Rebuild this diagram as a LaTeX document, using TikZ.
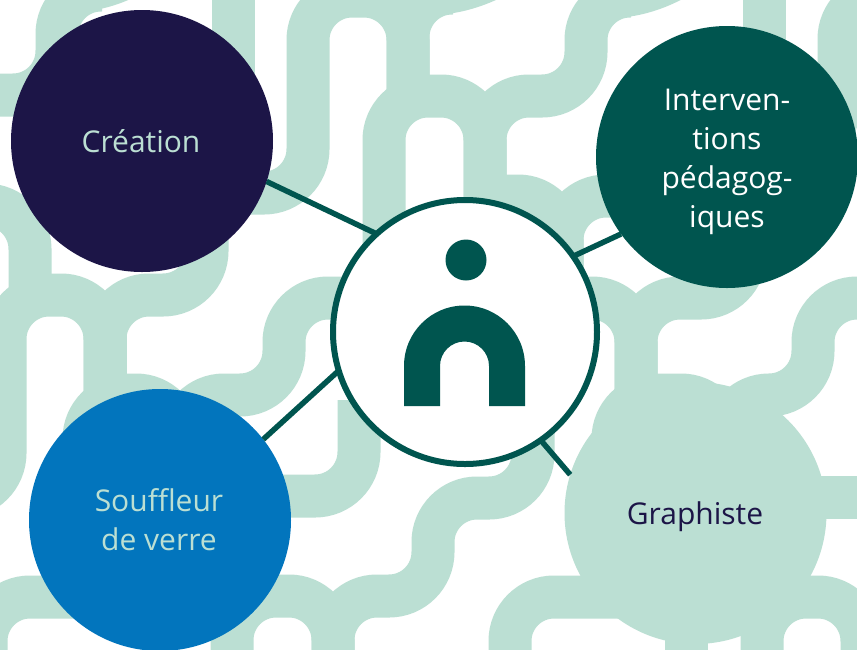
\documentclass[tikz,border=0pt]{standalone}
\usepackage{fontspec}
\setmainfont{Open Sans}
\definecolor{bandc}{HTML}{BBDFD3}
\definecolor{navyc}{HTML}{1C1547}
\definecolor{darkg}{HTML}{00554F}
\definecolor{bluec}{HTML}{0275BD}
\tikzset{
  band/.style={draw=bandc,line width=43pt,rounded corners=44pt},
  bubble/.style={circle,minimum size=262pt,inner sep=0pt,outer sep=0pt},
  caption/.style={align=center,inner sep=0pt,font=\fontsize{30pt}{39pt}\selectfont},
  link/.style={draw=darkg,line width=5.5pt}
}
\begin{document}
\begin{tikzpicture}[x=1pt,y=-1pt]
\useasboundingbox (0,0) rectangle (857,649);
\fill[white] (0,0) rectangle (857,649);
\begin{scope}
\clip (0,0) rectangle (857,649);
\draw[band] (-30,95) -- (57,95) -- (57,-10) -- (122,-10) -- (172,-60);
\draw[band] (233,-30) -- (233,100);
\draw[band] (230,193) -- (308,193) -- (308,-4) -- (408,-4) -- (408,96);
\draw[band] (408,96) -- (408,-7) -- (480,-7) -- (530,-50);
\draw[band] (384,260) -- (384,96) -- (485,96) -- (485,260);
\draw[band] (485,200) -- (485,96) -- (586,96) -- (586,-4) -- (660,-4) -- (710,-50);
\draw[band] (485,196) -- (562,196) -- (562,300);
\draw[band] (562,300) -- (562,196) -- (700,196);
\draw[band] (540,298) -- (636,298) -- (636,420);
\draw[band] (636,420) -- (636,298) -- (745,298) -- (745,200);
\draw[band] (613,445) -- (613,395) -- (725,395) -- (725,450);
\draw[band] (725,450) -- (725,395) -- (813,395) -- (813,298) -- (890,298);
\draw[band] (764,-30) -- (764,100);
\draw[band] (890,-5) -- (839,-5) -- (839,150) -- (760,150);
\draw[band] (780,497) -- (890,497);
\draw[band] (762,680) -- (762,597) -- (862,597) -- (862,680);
\draw[band] (700,597) -- (800,597);
\draw[band] (686,600) -- (686,680);
\draw[band] (510,680) -- (510,597) -- (620,597);
\draw[band] (533,400) -- (533,498) -- (433,498) -- (433,596) -- (333,596) -- (333,680);
\draw[band] (232,680) -- (232,596) -- (333,596) -- (333,680);
\draw[band] (359,400) -- (359,496) -- (240,496);
\draw[band] (360,298) -- (284,298) -- (284,395) -- (180,395) -- (180,450);
\draw[band] (180,450) -- (180,395) -- (84,395) -- (84,460);
\draw[band] (105,295) -- (105,395);
\draw[band] (-40,497) -- (5,497) -- (5,295) -- (105,295) -- (105,400);
\draw[band] (105,400) -- (105,295) -- (207,295) -- (207,200);
\draw[band] (-30,205) -- (30,205) -- (30,300);
\draw[band] (-14,680) -- (-14,597) -- (100,597);
\end{scope}
\node[bubble,fill=navyc] (creation) at (142,141) {};
\node[bubble,fill=darkg] (interv) at (727,157) {};
\node[bubble,fill=bluec] (souffleur) at (160,520) {};
\node[bubble,fill=bandc] (graphiste) at (695.5,513) {};
\node[circle,minimum size=264pt,inner sep=0pt,outer sep=0pt,draw=darkg,line width=6pt,fill=white] (hub) at (465,332) {};
\fill[darkg] (466,260) circle[radius=20.5];
\fill[darkg] (404,406) -- (404,366) arc[start angle=180,end angle=360,radius=60.5] -- (525,406) -- (489,406) -- (489,366) arc[start angle=360,end angle=180,radius=24.5] -- (440,406) -- cycle;
\draw[link] (creation.-18.9) -- (hub.132.2);
\draw[link] (interv.216) -- (hub.35.7);
\draw[link] (souffleur.38.8) -- (hub.197);
\draw[link] (graphiste.163) -- (hub.-55.7);
\node[caption,text=bandc] (creationt) at (141,141) {Création};
\node[caption,text=white] (intervt) at (727,161.5) {Interven-\\tions\\pédagog-\\iques};
\node[caption,text=bandc] (souffleurt) at (159,520) {Souffleur\\de verre};
\node[caption,text=navyc] (graphistet) at (695,517) {Graphiste};
\end{tikzpicture}
\end{document}
